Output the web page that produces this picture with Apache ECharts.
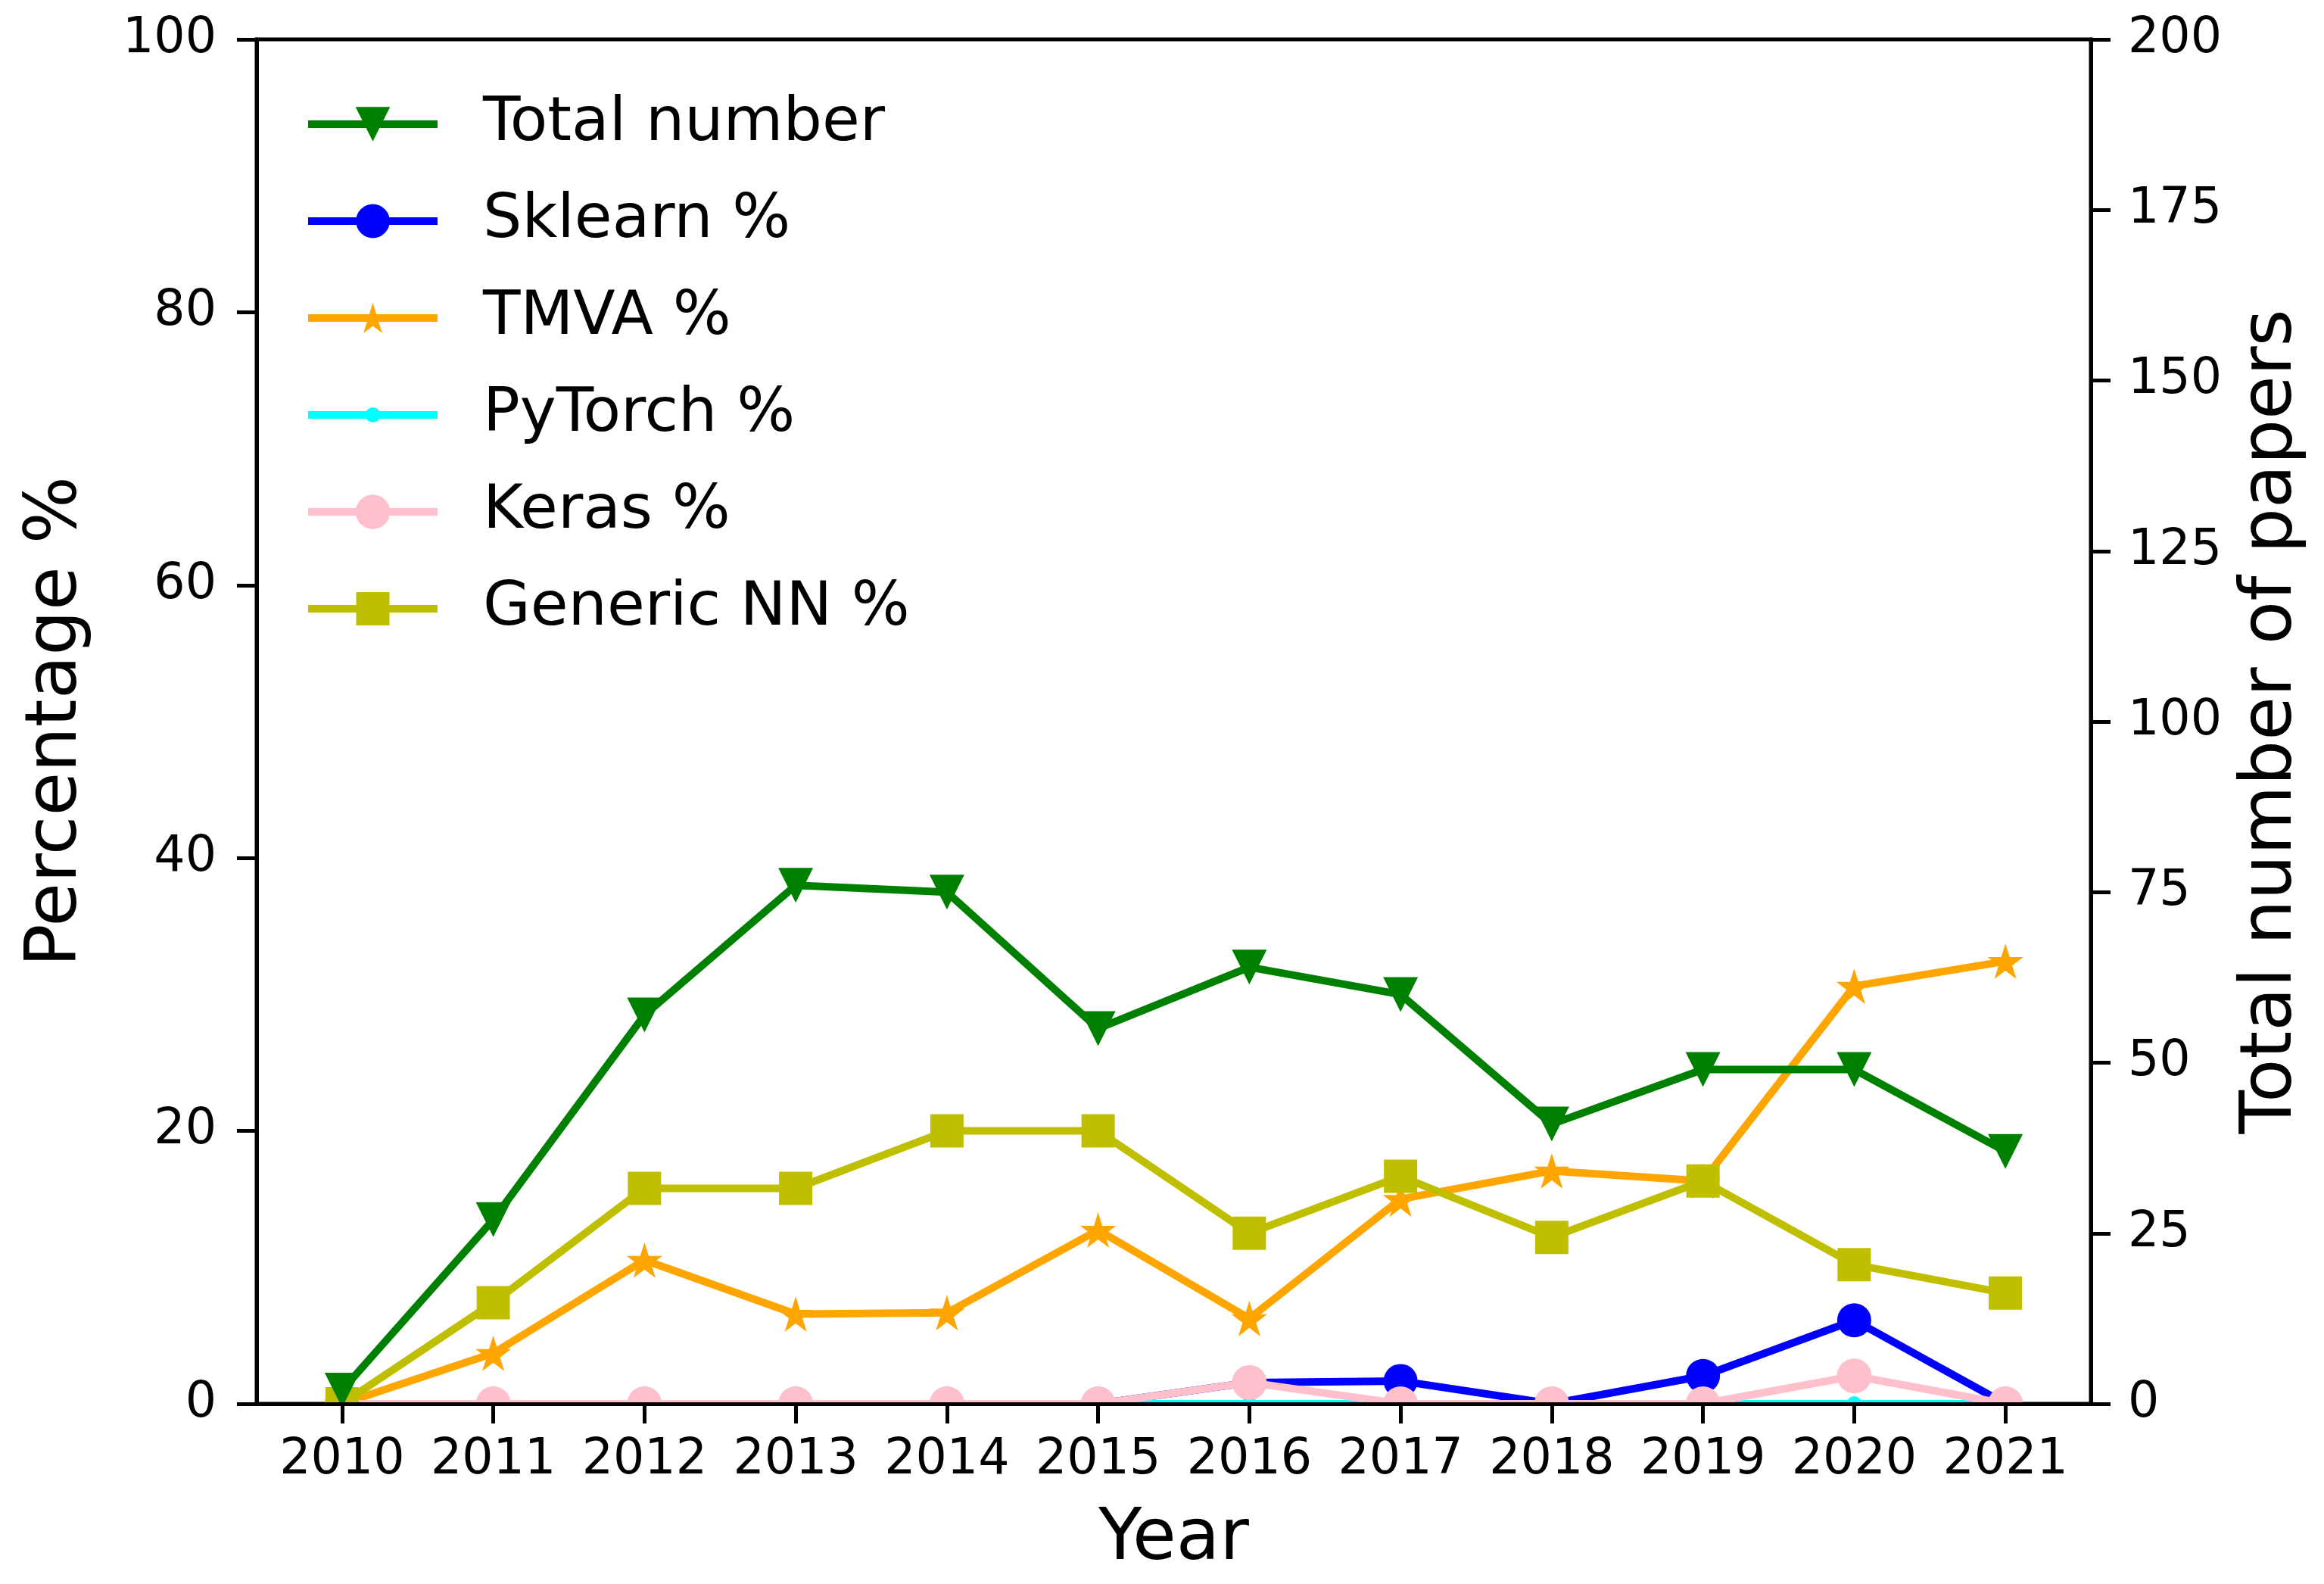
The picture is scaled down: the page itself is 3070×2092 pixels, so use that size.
<!DOCTYPE html>
<html>
<head>
<meta charset="utf-8">
<script src="https://cdn.jsdelivr.net/npm/echarts@6/dist/echarts.min.js"></script>
<style>html,body{margin:0;padding:0;background:#fff}#c{width:3070px;height:2092px}</style>
</head>
<body>
<div id="c"></div>
<script>
// ---- data ----
const years = [2010, 2011, 2012, 2013, 2014, 2015, 2016, 2017, 2018, 2019, 2020, 2021];
const totalPapers = [2, 27, 57, 76, 75, 55, 64, 60, 41, 49, 49, 37];
const sklearnPct = [0, 0, 0, 0, 0, 0, 1.56, 1.67, 0, 2.04, 6.12, 0];
const tmvaPct = [0, 3.70, 10.53, 6.58, 6.67, 12.73, 6.25, 15.00, 17.07, 16.33, 30.61, 32.43];
const pytorchPct = [0, 0, 0, 0, 0, 0, 0, 0, 0, 0, 0, 0];
const kerasPct = [0, 0, 0, 0, 0, 0, 1.56, 0, 0, 0, 2.04, 0];
const genericNNPct = [0, 7.41, 15.79, 15.79, 20.00, 20.00, 12.50, 16.67, 12.20, 16.33, 10.20, 8.11];
const leftTicks = [0, 20, 40, 60, 80, 100];
const rightTicks = [0, 25, 50, 75, 100, 125, 150, 175, 200];

const FONT = 'DejaVu Sans';
const STAR = 'path://M100 0 L122.45 69.1 L195.1 69.1 L136.3 111.8 L158.8 180.9 L100 138.2 L41.2 180.9 L63.7 111.8 L4.9 69.1 L77.55 69.1 Z';
const pairs = arr => years.map((y, i) => [y, arr[i]]);

function mkSeries(name, arr, color, symbol, size, rotate, yIdx) {
  return {
    name: name, type: 'line', yAxisIndex: yIdx, data: pairs(arr),
    symbol: symbol, symbolSize: size, symbolRotate: rotate, showSymbol: true, showAllSymbol: true,
    lineStyle: {color: color, width: 10}, itemStyle: {color: color, borderWidth: 0},
    emphasis: {disabled: true}, silent: true, clip: false
  };
}

const series = [
  mkSeries('Sklearn %', sklearnPct, '#0000ff', 'circle', 45, 0, 0),
  mkSeries('TMVA %', tmvaPct, '#ffa500', STAR, 47, 0, 0),
  mkSeries('PyTorch %', pytorchPct, '#00ffff', 'circle', 20, 0, 0),
  mkSeries('Keras %', kerasPct, '#ffc0cb', 'circle', 46, 0, 0),
  mkSeries('Generic NN %', genericNNPct, '#bfbf00', 'rect', 44, 0, 0),
  mkSeries('Total number', totalPapers, '#008000', 'triangle', 46, 180, 1)
];

const legendRows = [
  {name: 'Total number', h: 57},
  {name: 'Sklearn %', h: 56},
  {name: 'TMVA %', h: 50},
  {name: 'PyTorch %', h: 25},
  {name: 'Keras %', h: 57},
  {name: 'Generic NN %', h: 55}
];
const legends = legendRows.map((r, i) => ({
  data: [r.name], left: 402, top: 164 + 128 * i - 50, orient: 'vertical', padding: 0,
  itemWidth: 171, itemHeight: r.h, selectedMode: false,
  lineStyle: {width: 10},
  textStyle: {fontSize: 81, lineHeight: 100, color: '#000', fontFamily: FONT, padding: [0, 0, 0, 55]}
}));

const axisFont = {fontSize: 65, color: '#000', fontFamily: FONT};
const nameFont = {fontSize: 94, color: '#000', fontFamily: FONT};

const chart = echarts.init(document.getElementById('c'), null, {renderer: 'canvas'});
chart.setOption({
  animation: false,
  backgroundColor: '#fff',
  grid: {left: 339, right: 308, top: 52, bottom: 238, show: true, borderColor: '#000', borderWidth: 5, containLabel: false, outerBoundsMode: 'none'},
  legend: legends,
  xAxis: {
    type: 'value', min: 2010 - 0.565, max: 2021 + 0.565, z: 10,
    name: 'Year', nameLocation: 'middle', nameGap: 134, nameTextStyle: nameFont,
    axisLine: {show: true, lineStyle: {color: '#000', width: 5}},
    axisTick: {show: true, customValues: years, length: 26, lineStyle: {color: '#000', width: 5}},
    axisLabel: {show: true, customValues: years, margin: 43, formatter: v => String(v), ...axisFont},
    splitLine: {show: false}
  },
  yAxis: [
    {
      type: 'value', min: 0, max: 100, interval: 20, position: 'left', z: 10,
      name: 'Percentage %', nameLocation: 'middle', nameGap: 216, nameTextStyle: nameFont,
      axisLine: {show: true, lineStyle: {color: '#000', width: 5}},
      axisTick: {show: true, length: 26, lineStyle: {color: '#000', width: 5}},
      axisLabel: {margin: 53, formatter: v => leftTicks.includes(v) ? String(v) : '', ...axisFont},
      splitLine: {show: false}
    },
    {
      type: 'value', min: 0, max: 200, interval: 25, position: 'right', z: 10,
      name: 'Total number of papers', nameLocation: 'middle', nameGap: 193, nameTextStyle: nameFont,
      axisLine: {show: true, lineStyle: {color: '#000', width: 5}},
      axisTick: {show: true, length: 26, lineStyle: {color: '#000', width: 5}},
      axisLabel: {margin: 49, formatter: v => rightTicks.includes(v) ? String(v) : '', ...axisFont},
      splitLine: {show: false}
    }
  ],
  graphic: [{
    type: 'rect', z: 5, silent: true,
    shape: {x: 300, y: 1857, width: 2500, height: 32},
    style: {fill: '#fff'}
  }],
  series: series
});
</script>
</body>
</html>
